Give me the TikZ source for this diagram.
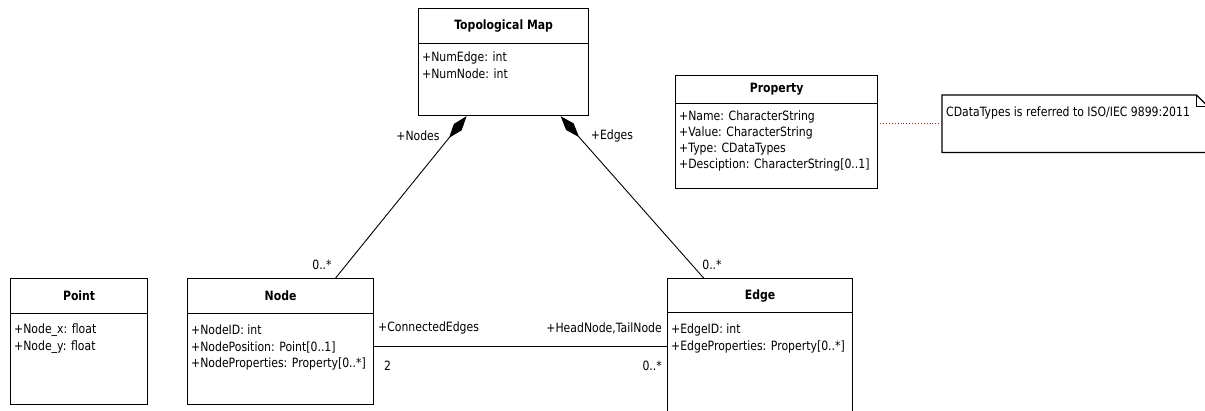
\documentclass[tikz,border=0pt]{standalone}
\usepackage{fontspec}
\setmainfont{DejaVu Sans}[FakeStretch=0.85]
\usetikzlibrary{arrows.meta,calc}
\definecolor{linkred}{RGB}{160,30,30}
\tikzset{
  cls/.style={draw,line width=1.2pt,inner sep=0pt,anchor=north west},
  attr/.style={anchor=west,inner sep=0pt},
  role/.style={inner sep=0pt},
  comp/.style={line width=0.9pt,-{Diamond[length=28pt,width=10pt]}},
  notelink/.style={draw=linkred,dotted,line width=0.9pt}
}
\begin{document}
\begin{tikzpicture}[x=1pt,y=-1pt,font=\fontsize{12.8}{15}\selectfont]
\useasboundingbox (0,0) rectangle (1205,410);
\clip (0,0) rectangle (1205,410);
%classes
\node[cls,minimum width=170pt,minimum height=35pt] (tmHead) at (418,8) {\bfseries Topological Map};
\node[cls,minimum width=170pt,minimum height=72pt] (tmBody) at (418,43) {};
\node[cls,minimum width=202pt,minimum height=28pt] (propHead) at (675,75) {\bfseries Property};
\node[cls,minimum width=202pt,minimum height=85pt] (propBody) at (675,103) {};
\node[cls,minimum width=137pt,minimum height=35pt] (pointHead) at (10,278) {\bfseries Point};
\node[cls,minimum width=137pt,minimum height=91pt] (pointBody) at (10,313) {};
\node[cls,minimum width=186pt,minimum height=35pt] (nodeHead) at (187,278) {\bfseries Node};
\node[cls,minimum width=186pt,minimum height=91pt] (nodeBody) at (187,313) {};
\node[cls,minimum width=185pt,minimum height=34pt] (edgeHead) at (667,278) {\bfseries Edge};
\node[cls,minimum width=185pt,minimum height=100pt] (edgeBody) at (667,312) {};
%attributes
\node[attr] (tmA1) at (422,58) {+NumEdge: int};
\node[attr] (tmA2) at (422,74) {+NumNode: int};
\node[attr] (propA1) at (679,117) {+Name: CharacterString};
\node[attr] (propA2) at (679,133) {+Value: CharacterString};
\node[attr] (propA3) at (679,149) {+Type: CDataTypes};
\node[attr] (propA4) at (679,165) {+Desciption: CharacterString[0..1]};
\node[attr] (pointA1) at (14,330) {+Node\_x: float};
\node[attr] (pointA2) at (14,347) {+Node\_y: float};
\node[attr] (nodeA1) at (191,330) {+NodeID: int};
\node[attr] (nodeA2) at (191,347) {+NodePosition: Point[0..1]};
\node[attr] (nodeA3) at (191,364) {+NodeProperties: Property[0..*]};
\node[attr] (edgeA1) at (671,330) {+EdgeID: int};
\node[attr] (edgeA2) at (671,347) {+EdgeProperties: Property[0..*]};
%note
\node[minimum width=265pt,minimum height=57pt,inner sep=0pt,anchor=north west] (noteBox) at (942,95) {};
\draw[line width=1.2pt] (noteBox.north west) -- ([xshift=-11pt]noteBox.north east)
  -- ([yshift=-11pt]noteBox.north east) -- (noteBox.south east) -- (noteBox.south west) -- cycle;
\draw[line width=0.9pt] ([xshift=-11pt]noteBox.north east) |- ([yshift=-11pt]noteBox.north east);
\node[attr] (noteText) at (946,113) {CDataTypes is referred to ISO/IEC 9899:2011};
\draw[notelink] (noteBox.west) -- (noteBox.west -| propBody.east);
%compositions
\draw[comp] ([xshift=55pt]nodeHead.north) -- ([xshift=-37pt]tmBody.south);
\draw[comp] ([xshift=-56.5pt]edgeHead.north) -- ([xshift=57pt]tmBody.south);
\node[role] (lblNodes) at (418,136) {+Nodes};
\node[role] (lblEdges) at (612,136) {+Edges};
\node[role] (multNodes) at (322,265) {0..*};
\node[role] (multEdges) at (712,265) {0..*};
%association
\draw[line width=0.9pt] ([yshift=12.5pt]nodeBody.east) -- ([yshift=12.5pt]nodeBody.east -| edgeBody.west);
\node[attr] (lblConn) at (378,328) {+ConnectedEdges};
\node[attr] (multConn) at (384,366) {2};
\node[role,anchor=east] (lblHead) at (662,328) {+HeadNode,TailNode};
\node[role,anchor=east] (multHead) at (662,366) {0..*};
\end{tikzpicture}
\end{document}
